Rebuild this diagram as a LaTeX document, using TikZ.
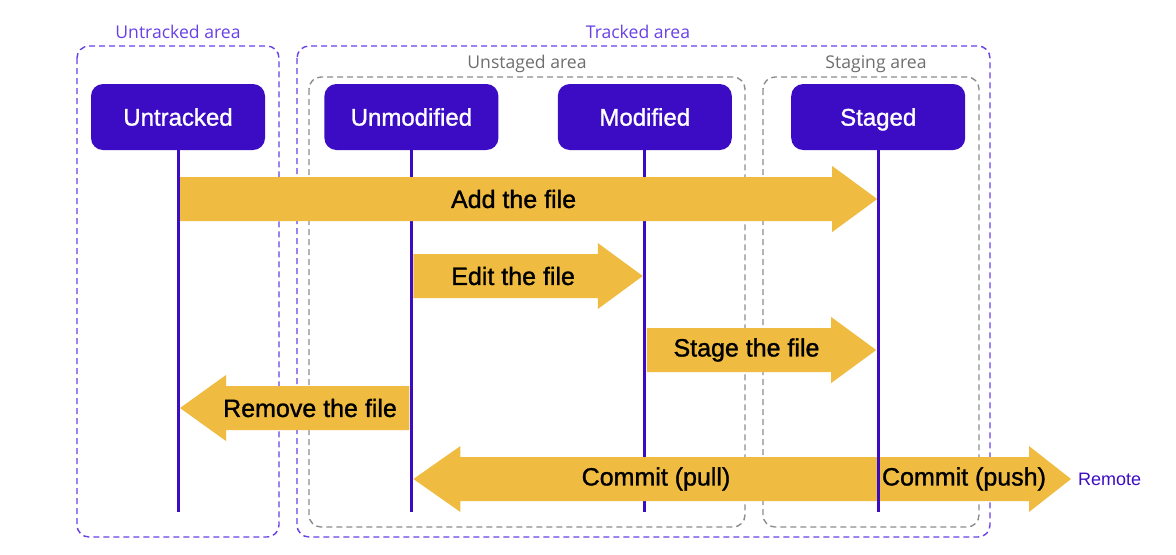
\documentclass[tikz,border=0pt]{standalone}
\usepackage{fontspec}
\setmainfont{Liberation Sans}
\newfontfamily\areafont{Open Sans}
\newfontfamily\boldish[FakeBold=1.2]{Liberation Sans}
\usetikzlibrary{positioning,calc}
\definecolor{gitpurple}{RGB}{60,12,196}
\definecolor{areapurple}{RGB}{105,64,230}
\definecolor{flowyellow}{RGB}{239,187,64}
\definecolor{areagray}{RGB}{140,140,140}
\definecolor{labelgray}{RGB}{110,110,110}
\tikzset{
    state/.style={rectangle, rounded corners=6pt, fill=gitpurple, text=white, minimum width=87pt, minimum height=33pt, text height=8.6pt, text depth=0pt, font=\boldish\fontsize{12}{14}\selectfont},
    lifeline/.style={draw=gitpurple, line width=1.5pt},
    flow/.style={fill=flowyellow},
    flowtext/.style={font=\boldish\fontsize{12.5}{14}\selectfont},
    trackbox/.style={draw=areapurple, dash pattern=on 3pt off 2pt, line width=0.7pt, rounded corners=6pt},
    stagebox/.style={draw=areagray, dash pattern=on 3pt off 2pt, line width=0.7pt, rounded corners=6pt},
    trackname/.style={text=areapurple, font=\areafont\fontsize{8.8}{10}\selectfont},
    stagename/.style={text=labelgray, font=\areafont\fontsize{8.8}{10}\selectfont}
}
% #1 start, #2 tip, #3 signed head length, #4 text
\newcommand\flowarrow[4]{
  \fill[flow] ($(#1)+(0,-22)$) -- ($(#2)-(#3,22)$) -- ($(#2)-(#3,33)$) -- (#2)
    -- ($(#2)-(#3,-33)$) -- ($(#2)-(#3,-22)$) -- ($(#1)+(0,22)$) -- cycle;
  \node[flowtext] at ($(#1)!0.5!(#2)-(#3/3,0)$) {#4};
}

\begin{document}
\begin{tikzpicture}
  [
    x = 0.5pt,
    y = -0.5pt,
  ]
  \useasboundingbox (0,0) rectangle (1176,554);

  % areas
  \draw[trackbox] (77,46) rectangle (279,537);
  \draw[trackbox] (297,46) rectangle (990,537);
  \draw[stagebox] (309,77) rectangle (745,527);
  \draw[stagebox] (763,77) rectangle (979,527);
  \node[trackname] (untracked area) at (178,32) {Untracked area};
  \node[trackname] (tracked area) at (638,32) {Tracked area};
  \node[stagename] (unstaged area) at (527,64) {Unstaged area};
  \node[stagename] (staging area) at (876,64) {Staging area};

  % states
  \node[state] (untracked) at (178,117) {Untracked};
  \node[state, right=29.3pt of untracked] (unmodified) {Unmodified};
  \node[state, right=29.3pt of unmodified] (modified) {Modified};
  \node[state, right=29.3pt of modified] (staged) {Staged};
  \node[text=gitpurple, font=\fontsize{9}{10}\selectfont, anchor=west] (remote) at (1071,479) {Remote};

  \foreach \s in {untracked,unmodified,modified}
    \draw[lifeline] (\s.south) -- (\s.south |- 0,512);

  % transitions
  \coordinate (add start) at ($(untracked.south |- 0,199)+(2,0)$);
  \coordinate (add end) at ($(staged.south |- 0,199)+(-1,0)$);
  \coordinate (edit start) at ($(unmodified.south |- 0,276)+(2,0)$);
  \coordinate (edit end) at ($(modified.south |- 0,276)+(-2,0)$);
  \coordinate (stage start) at ($(modified.south |- 0,350)+(2,0)$);
  \coordinate (stage end) at ($(staged.south |- 0,350)+(-2,0)$);
  \coordinate (remove start) at ($(unmodified.south |- 0,408)+(-2,0)$);
  \coordinate (remove end) at ($(untracked.south |- 0,408)+(2,0)$);
  \coordinate (pull end) at ($(unmodified.south |- 0,479)+(2,0)$);

  \flowarrow{add start}{add end}{45}{Add the file}
  \flowarrow{edit start}{edit end}{45}{Edit the file}
  \flowarrow{stage start}{stage end}{45}{Stage the file}
  \flowarrow{remove start}{remove end}{-46}{Remove the file}

  \fill[flow] (pull end) -- ($(pull end)+(47,-33)$) -- ($(pull end)+(47,-22)$)
    -- ($(remote.west)+(-42,-22)$) -- ($(remote.west)+(-42,-33)$) -- (remote.west)
    -- ($(remote.west)+(-42,33)$) -- ($(remote.west)+(-42,22)$)
    -- ($(pull end)+(47,22)$) -- ($(pull end)+(47,33)$) -- cycle;
  \node[flowtext] (pull) at (656,479) {Commit (pull)};
  \node[flowtext] (push) at (964,479) {Commit (push)};

  \draw[lifeline] (staged.south) -- (staged.south |- 0,512);
\end{tikzpicture}
\end{document}
